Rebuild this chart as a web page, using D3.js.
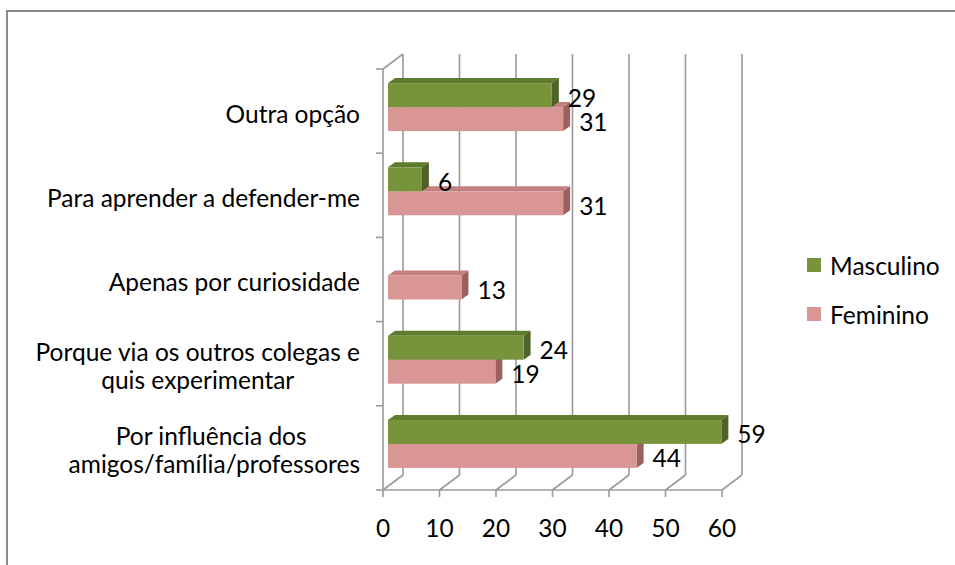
<!DOCTYPE html>
<html>
<head>
<meta charset="utf-8">
<script src="https://cdn.jsdelivr.net/npm/d3@7"></script>
<style>
  body { margin: 0; background: white; }
  text { font-family: Lato, "Open Sans", sans-serif; fill: #000; }
</style>
</head>
<body>
<div id="container"></div>
<script>
const categories = ['Outra opção', 'Para aprender a defender-me', 'Apenas por curiosidade',
  'Porque via os outros colegas e quis experimentar', 'Por influência dos amigos/família/professores']
const categoryLines = [['Outra opção'], ['Para aprender a defender-me'], ['Apenas por curiosidade'],
  ['Porque via os outros colegas e', 'quis experimentar'], ['Por influência dos ', 'amigos/família/professores']]
const masculino = [29, 6, null, 24, 59]
const feminino = [31, 31, 13, 19, 44]
const xTicks = [0, 10, 20, 30, 40, 50, 60]
const seriesNames = ['Masculino', 'Feminino']

const w = 955
const h = 565
const fontSize = 24.5

// 3d offsets: walls, bar plane, bar depth
const wallDx = 20, wallDy = -15
const planeDx = 5, planeDy = -4
const barDx = 7, barDy = -5
const barH = 24

const colors = {
  Masculino: { front: '#77933C', top: '#5F7B2D', side: '#4F6228' },
  Feminino: { front: '#D99694', top: '#C4807E', side: '#9A625F' }
}

const svg = d3.select('#container')
  .append('svg')
    .attr('width', w)
    .attr('height', h)

svg.append('rect')
  .attr('x', 7).attr('y', 11)
  .attr('width', 980).attr('height', 600)
  .attr('fill', 'white')
  .attr('stroke', '#8c8c8c')
  .attr('stroke-width', 2)

const scaleX = d3.scaleLinear().domain([0, 60]).range([383, 722])
const scaleY = d3.scaleBand().domain(categories).range([69, 490])

const y0 = scaleY.range()[0]
const y1 = scaleY.range()[1]
const grid = svg.append('g').attr('stroke', '#9a9a9a').attr('stroke-width', 1.6).attr('fill', 'none')

// back wall gridlines + floor diagonals
xTicks.forEach(t => {
  const x = scaleX(t)
  grid.append('line').attr('x1', x + wallDx).attr('x2', x + wallDx)
    .attr('y1', y0 + wallDy).attr('y2', y1 + wallDy)
  grid.append('line').attr('x1', x).attr('x2', x + wallDx)
    .attr('y1', y1).attr('y2', y1 + wallDy)
})
// left wall top edge
grid.append('line').attr('x1', scaleX(0)).attr('x2', scaleX(0) + wallDx)
  .attr('y1', y0).attr('y2', y0 + wallDy)

// front axes
grid.append('line').attr('x1', scaleX(0)).attr('x2', scaleX(0)).attr('y1', y0).attr('y2', y1)
grid.append('line').attr('x1', scaleX(0)).attr('x2', scaleX(60)).attr('y1', y1).attr('y2', y1)
const yEdges = categories.map(c => scaleY(c)).concat([y1])
yEdges.forEach(y => {
  grid.append('line').attr('x1', scaleX(0) - 7).attr('x2', scaleX(0)).attr('y1', y).attr('y2', y)
})
xTicks.forEach(t => {
  grid.append('line').attr('x1', scaleX(t)).attr('x2', scaleX(t)).attr('y1', y1).attr('y2', y1 + 7)
})

// x tick labels
svg.append('g').selectAll('text')
  .data(xTicks)
  .enter()
  .append('text')
    .attr('x', d => scaleX(d))
    .attr('y', 527)
    .attr('text-anchor', 'middle')
    .attr('dominant-baseline', 'central')
    .style('font-size', fontSize + 'px')
    .text(d => d)

// category labels, right aligned box, lines centred in it
const labelRight = 360
const lineGap = 28
categories.forEach((c, i) => {
  const lines = categoryLines[i]
  const cy = scaleY(c) + scaleY.bandwidth() / 2 + 2
  const g = svg.append('g')
  const texts = lines.map((l, j) => g.append('text')
    .attr('y', cy + (j - (lines.length - 1) / 2) * lineGap)
    .attr('dominant-baseline', 'central')
    .attr('text-anchor', 'middle')
    .style('font-size', fontSize + 'px')
    .style('white-space', 'pre')
    .text(l))
  const boxW = d3.max(texts, t => t.node().getComputedTextLength())
  texts.forEach(t => t.attr('x', labelRight - boxW / 2))
})

// bars: feminino first so masculino front face covers its top
const drawBar = (value, yTop, col) => {
  const xa = scaleX(0) + planeDx
  const xb = scaleX(value) + planeDx
  const yb = yTop + barH
  svg.append('polygon')
    .attr('points', [[xa, yTop], [xa + barDx, yTop + barDy], [xb + barDx, yTop + barDy], [xb, yTop]].join(' '))
    .attr('fill', col.top)
  svg.append('polygon')
    .attr('points', [[xb, yTop], [xb + barDx, yTop + barDy], [xb + barDx, yb + barDy], [xb, yb]].join(' '))
    .attr('fill', col.side)
  svg.append('rect')
    .attr('x', xa).attr('y', yTop)
    .attr('width', xb - xa).attr('height', barH)
    .attr('fill', col.front)
}

const drawLabel = (value, yTop) => {
  svg.append('text')
    .attr('x', scaleX(value) + planeDx + 16)
    .attr('y', yTop + barH / 2 + 2)
    .attr('dominant-baseline', 'central')
    .style('font-size', fontSize + 'px')
    .text(value)
}

categories.forEach((c, i) => {
  const mid = scaleY(c) + scaleY.bandwidth() / 2 + planeDy
  if (feminino[i] != null) drawBar(feminino[i], mid, colors.Feminino)
  if (masculino[i] != null) drawBar(masculino[i], mid - barH, colors.Masculino)
})
categories.forEach((c, i) => {
  const mid = scaleY(c) + scaleY.bandwidth() / 2 + planeDy
  if (feminino[i] != null) drawLabel(feminino[i], mid)
  if (masculino[i] != null) drawLabel(masculino[i], mid - barH)
})

// legend
const legend = svg.append('g')
seriesNames.forEach((s, i) => {
  const cy = 265 + i * 49
  legend.append('rect')
    .attr('x', 807).attr('y', cy - 7)
    .attr('width', 14).attr('height', 14)
    .attr('fill', colors[s].front)
  legend.append('text')
    .attr('x', 830).attr('y', cy)
    .attr('dominant-baseline', 'central')
    .style('font-size', fontSize + 'px')
    .text(s)
})
</script>
</body>
</html>
